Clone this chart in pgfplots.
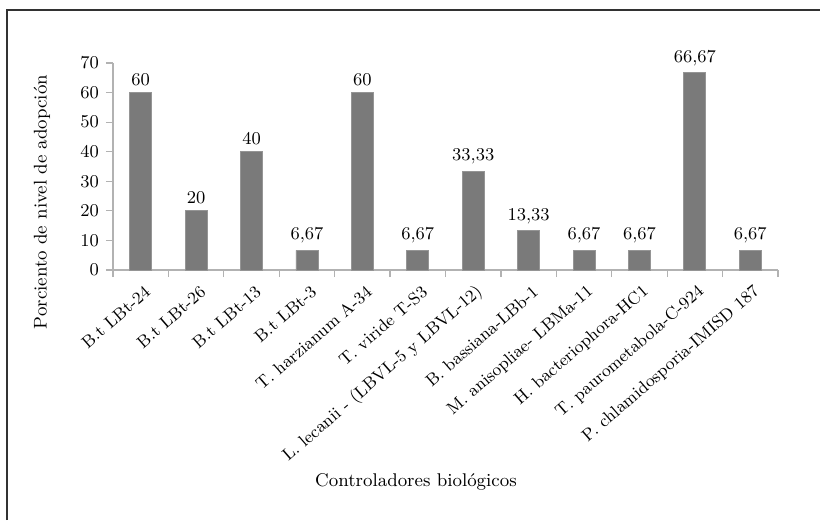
\documentclass[border=0pt]{standalone}
\usepackage{pgfplots}
\pgfplotsset{compat=1.18}
\definecolor{barfill}{RGB}{122,122,122}
\definecolor{axgray}{RGB}{178,178,178}
\definecolor{frame}{RGB}{50,50,50}
\newcommand{\lblfont}{\fontsize{9.2}{11}\selectfont}
\newcommand{\catfont}{\fontsize{8.6}{10}\selectfont}
\begin{document}
\begin{tikzpicture}
\useasboundingbox (0,0) rectangle (410pt,260pt);
\draw[line width=1pt, frame] (3.5pt,0) -- (3.5pt,255pt) -- (410pt,255pt);
\begin{axis}[
  at={(56.5pt,125pt)}, anchor=south west,
  scale only axis, width=332.5pt, height=103.5pt,
  xmin=-0.5, xmax=11.5, ymin=0, ymax=70,
  axis x line*=bottom, axis y line*=left,
  axis line style={axgray, line width=0.6pt, -},
  tick style={axgray, line width=0.6pt},
  tick align=outside, major tick length=3.5pt,
  ytick={0,10,...,70},
  yticklabel style={font=\lblfont, text=black},
  xtick={-0.5,0.5,...,11.5}, xticklabels={},
  extra x ticks={0,1,...,11},
  extra x tick labels={{B.t LBt-24},{B.t LBt-26},{B.t LBt-13},{B.t LBt-3},
    {T. harzianum A-34},{T. viride T-S3},{L. lecanii - (LBVL-5 y LBVL-12)},
    {B. bassiana-LBb-1},{M. anisopliae- LBMa-11},{H. bacteriophora-HC1},
    {T. paurometabola-C-924},{P. chlamidosporia-IMISD 187}},
  extra x tick style={tick style={draw=none}},
  xticklabel style={font=\catfont, text=black, rotate=41, anchor=east, yshift=-7pt, xshift=2pt},
  nodes near coords,
  nodes near coords style={font=\lblfont, text=black,
    /pgf/number format/use comma, /pgf/number format/fixed,
    /pgf/number format/precision=2},
  clip=false,
]
\addplot[ybar, bar width=11pt, fill=barfill, draw=barfill!80!white] coordinates {
  (0,60) (1,20) (2,40) (3,6.67) (4,60) (5,6.67)
  (6,33.33) (7,13.33) (8,6.67) (9,6.67) (10,66.67) (11,6.67)
};
\end{axis}
\node[rotate=90, font=\lblfont] at (21pt,159pt) {Porciento de nivel de adopción};
\node[font=\lblfont] at (208pt,19pt) {Controladores biológicos};
\end{tikzpicture}
\end{document}
